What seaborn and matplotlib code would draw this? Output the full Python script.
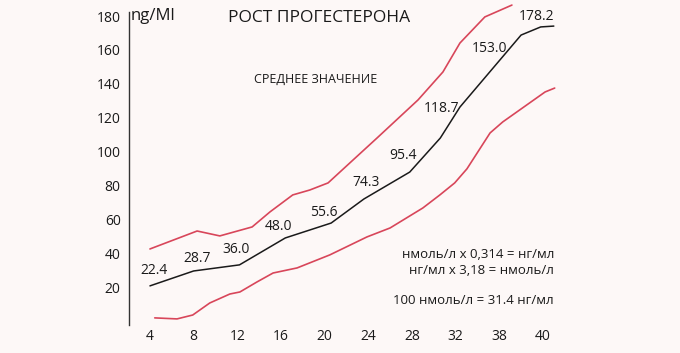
import matplotlib
matplotlib.use("Agg")
import matplotlib.pyplot as plt
import seaborn as sns
import pandas as pd

# ---- data (x in tick-position units: 0 -> week 4 ... 9 -> week 40) ----
week_labels = ["4", "8", "12", "16", "20", "24", "28", "32", "38", "40"]

mean_x = [0.0, 1.0, 2.05, 3.1, 4.15, 4.9, 5.25, 5.95, 6.65, 7.1, 8.5, 8.95, 9.25]
mean_y = [20.7, 29.5, 33.1, 49.0, 57.8, 72.0, 77.3, 87.9, 108.0, 126.3, 168.8, 173.6, 174.1]

upper_x = [0.0, 1.08, 1.6, 2.34, 2.75, 3.27, 3.66, 4.08, 4.65, 5.2, 6.14, 6.71, 7.1, 7.67, 8.29]
upper_y = [42.5, 53.1, 50.2, 55.5, 64.4, 74.4, 77.3, 81.5, 95.0, 108.0, 130.5, 147.0, 164.1, 179.5, 186.5]

lower_x = [0.11, 0.62, 0.98, 1.37, 1.83, 2.06, 2.45, 2.82, 3.37, 4.12, 4.97, 5.5, 6.25,
           6.64, 6.98, 7.26, 7.79, 8.08, 9.05, 9.27]
lower_y = [1.8, 1.2, 3.5, 10.6, 15.9, 17.1, 23.0, 28.3, 31.3, 39.0, 49.6, 54.9, 66.7,
           74.4, 81.5, 89.8, 111.0, 117.5, 135.2, 137.5]

mean_labels = ["22.4", "28.7", "36.0", "48.0", "55.6", "74.3", "95.4", "118.7", "153.0", "178.2"]
y_ticks = [20, 40, 60, 80, 100, 120, 140, 160, 180]

title = "РОСТ ПРОГЕСТЕРОНА"
unit = "ng/Ml"
mean_caption = "СРЕДНЕЕ ЗНАЧЕНИЕ"
conv_lines = ["нмоль/л x 0,314 = нг/мл", "нг/мл x 3,18 = нмоль/л", "100 нмоль/л = 31.4 нг/мл"]

# ---- style ----
sns.set_theme(style="white")
plt.rcParams["font.family"] = ["Open Sans", "DejaVu Sans"]
BG = "#fdf8f7"
RED = "#d8465a"
INK = "#1a1a1a"

fig = plt.figure(figsize=(6.8, 3.53), dpi=100, facecolor=BG)
ax = fig.add_axes([129 / 680, 28 / 353, 1 - 129 / 680, 1 - 28 / 353])
ax.set_facecolor(BG)

df_mean = pd.DataFrame({"x": mean_x, "y": mean_y})
df_up = pd.DataFrame({"x": upper_x, "y": upper_y})
df_lo = pd.DataFrame({"x": lower_x, "y": lower_y})

sns.lineplot(data=df_up, x="x", y="y", ax=ax, color=RED, lw=1.2, sort=False, estimator=None)
sns.lineplot(data=df_lo, x="x", y="y", ax=ax, color=RED, lw=1.2, sort=False, estimator=None)
sns.lineplot(data=df_mean, x="x", y="y", ax=ax, color=INK, lw=1.1, sort=False, estimator=None)

ax.set_xlim(-0.48, 12.14)
ax.set_ylim(-2.4, 189.5)

for s in ["top", "right", "bottom"]:
    ax.spines[s].set_visible(False)
ax.spines["left"].set_color("#333333")
ax.spines["left"].set_linewidth(1.0)
ax.spines["left"].set_bounds(-2.4, 182.4)

ax.set_xticks(range(len(week_labels)))
ax.set_xticklabels(week_labels)
ax.set_yticks(y_ticks)
ax.tick_params(axis="both", length=0, labelsize=10, colors=INK)
ax.tick_params(axis="y", pad=6)
ax.tick_params(axis="x", pad=3)
ax.set_xlabel("")
ax.set_ylabel("")

# value labels (layout positions in axis data units)
label_pos = [(0.09, 30.0), (1.08, 36.6), (1.98, 41.9), (2.94, 55.5), (3.98, 63.8),
             (4.96, 81.5), (5.8, 97.4), (6.67, 125.7), (7.77, 160.6), (8.85, 179.5)]
for txt, (lx, ly) in zip(mean_labels, label_pos):
    ax.text(lx, ly, txt, ha="center", va="center", fontsize=10, color=INK)

fig.text(131 / 680, 1 - 16 / 353, unit, ha="left", va="center", fontsize=12, color=INK)
fig.text(228 / 680, 1 - 18 / 353, title, ha="left", va="center", fontsize=12.5, color=INK)
fig.text(316 / 680, 1 - 79 / 353, mean_caption, ha="center", va="center", fontsize=9, color=INK)
conv_y = [254, 270, 300]
for t, yy in zip(conv_lines, conv_y):
    fig.text(554 / 680, 1 - yy / 353, t, ha="right", va="center", fontsize=9.5, color=INK)

fig.savefig("out.png", dpi=100, facecolor=BG)
